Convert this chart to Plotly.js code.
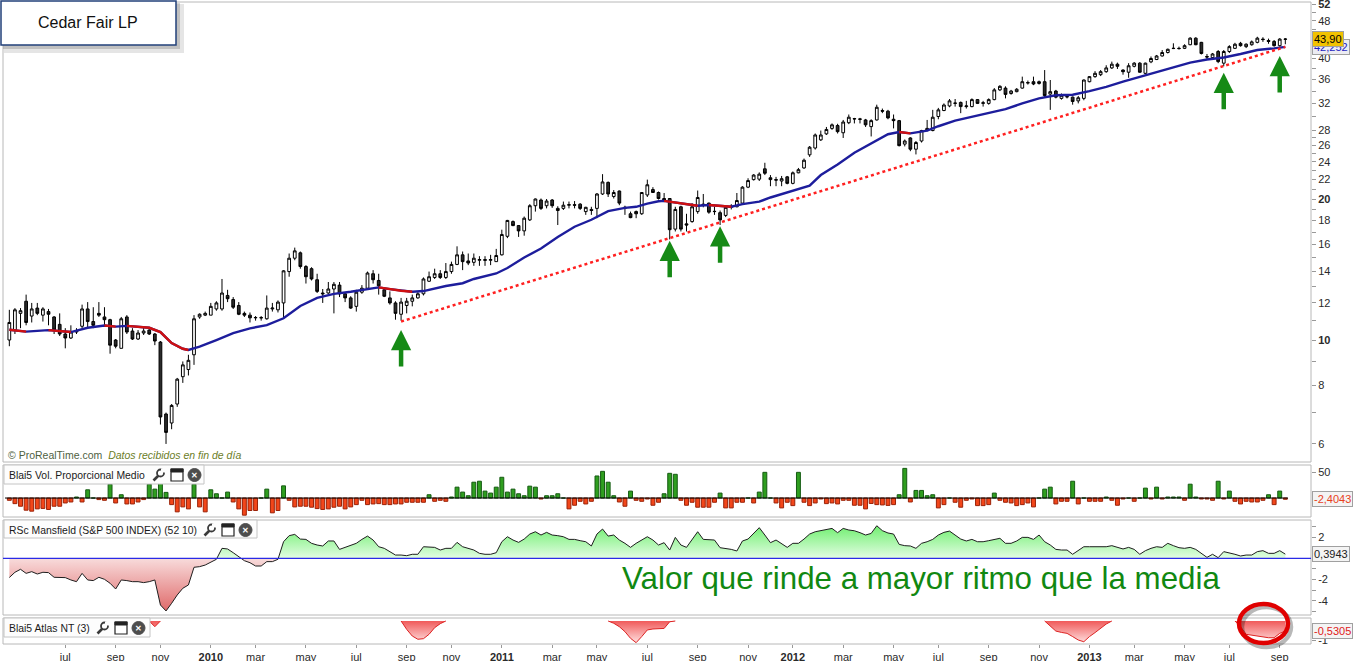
<!DOCTYPE html>
<html><head><meta charset="utf-8">
<script src="https://cdn.plot.ly/plotly-3.0.1.min.js"></script>
<style>html,body{margin:0;padding:0;background:#fff;overflow:hidden}</style>
</head><body><div id="chart" style="width:1360px;height:661px"></div>
<script>
// ---------- DATA (weekly, Cedar Fair LP) ----------
const weeks = [
'2009-04-27','2009-05-04','2009-05-11','2009-05-18','2009-05-25','2009-06-01','2009-06-08','2009-06-15','2009-06-22','2009-06-29',
'2009-07-06','2009-07-13','2009-07-20','2009-07-27','2009-08-03','2009-08-10','2009-08-17','2009-08-24','2009-08-31','2009-09-07',
'2009-09-14','2009-09-21','2009-09-28','2009-10-05','2009-10-12','2009-10-19','2009-10-26','2009-11-02','2009-11-09','2009-11-16',
'2009-11-23','2009-11-30','2009-12-07','2009-12-14','2009-12-21','2009-12-28',
'2010-01-04','2010-01-11','2010-01-18','2010-01-25','2010-02-01','2010-02-08','2010-02-15','2010-02-22','2010-03-01','2010-03-08',
'2010-03-15','2010-03-22','2010-03-29','2010-04-05','2010-04-12','2010-04-19','2010-04-26','2010-05-03','2010-05-10','2010-05-17',
'2010-05-24','2010-05-31','2010-06-07','2010-06-14','2010-06-21','2010-06-28','2010-07-05','2010-07-12','2010-07-19','2010-07-26',
'2010-08-02','2010-08-09','2010-08-16','2010-08-23','2010-08-30','2010-09-06','2010-09-13','2010-09-20','2010-09-27','2010-10-04',
'2010-10-11','2010-10-18','2010-10-25','2010-11-01','2010-11-08','2010-11-15','2010-11-22','2010-11-29','2010-12-06','2010-12-13',
'2010-12-20','2010-12-27',
'2011-01-03','2011-01-10','2011-01-17','2011-01-24','2011-01-31','2011-02-07','2011-02-14','2011-02-21','2011-02-28','2011-03-07',
'2011-03-14','2011-03-21','2011-03-28','2011-04-04','2011-04-11','2011-04-18','2011-04-25','2011-05-02','2011-05-09','2011-05-16',
'2011-05-23','2011-05-30','2011-06-06','2011-06-13','2011-06-20','2011-06-27','2011-07-04','2011-07-11','2011-07-18','2011-07-25',
'2011-08-01','2011-08-08','2011-08-15','2011-08-22','2011-08-29','2011-09-05','2011-09-12','2011-09-19','2011-09-26','2011-10-03',
'2011-10-10','2011-10-17','2011-10-24','2011-10-31','2011-11-07','2011-11-14','2011-11-21','2011-11-28','2011-12-05','2011-12-12',
'2011-12-19','2011-12-26',
'2012-01-02','2012-01-09','2012-01-16','2012-01-23','2012-01-30','2012-02-06','2012-02-13','2012-02-20','2012-02-27','2012-03-05',
'2012-03-12','2012-03-19','2012-03-26','2012-04-02','2012-04-09','2012-04-16','2012-04-23','2012-04-30','2012-05-07','2012-05-14',
'2012-05-21','2012-05-28','2012-06-04','2012-06-11','2012-06-18','2012-06-25','2012-07-02','2012-07-09','2012-07-16','2012-07-23',
'2012-07-30','2012-08-06','2012-08-13','2012-08-20','2012-08-27','2012-09-03','2012-09-10','2012-09-17','2012-09-24','2012-10-01',
'2012-10-08','2012-10-15','2012-10-22','2012-10-29','2012-11-05','2012-11-12','2012-11-19','2012-11-26','2012-12-03','2012-12-10',
'2012-12-17','2012-12-24','2012-12-31',
'2013-01-07','2013-01-14','2013-01-21','2013-01-28','2013-02-04','2013-02-11','2013-02-18','2013-02-25','2013-03-04','2013-03-11',
'2013-03-18','2013-03-25','2013-04-01','2013-04-08','2013-04-15','2013-04-22','2013-04-29','2013-05-06','2013-05-13','2013-05-20',
'2013-05-27','2013-06-03','2013-06-10','2013-06-17','2013-06-24','2013-07-01','2013-07-08','2013-07-15','2013-07-22','2013-07-29',
'2013-08-05','2013-08-12','2013-08-19','2013-08-26','2013-09-02','2013-09-09'];

const openP = [
10.0,10.5,11.4,12.1,11.25,11.7,11.3,11.5,11.2,10.8,
10.3,10.1,10.4,10.7,11.65,10.95,11.4,11.2,11.05,10.0,
9.6,11.2,10.45,10.05,10.35,10.5,10.3,9.9,6.95,6.65,
7.3,8.35,8.65,9.3,11.2,11.3,11.3,11.65,11.65,12.45,
12.2,11.85,11.4,11.3,11.15,11.17,11.1,11.65,11.6,12.0,
14.0,14.95,15.35,14.35,14.2,13.45,12.6,12.6,12.85,13.1,
12.55,12.3,11.8,12.65,12.9,13.85,13.4,12.8,12.3,12.0,
11.35,11.85,12.1,12.3,12.55,13.35,13.6,13.85,13.6,14.0,
14.5,15.2,14.75,14.65,14.8,14.85,14.8,14.7,15.2,16.65,
17.9,17.55,17.1,18.05,19.35,19.9,19.35,19.9,19.1,19.1,
19.4,19.45,19.5,18.8,19.0,19.1,20.5,21.7,20.25,20.8,
19.1,18.6,18.8,18.6,20.4,20.95,20.65,20.05,20.05,17.25,
19.25,17.7,17.9,18.8,19.5,19.6,18.8,18.7,18.45,19.2,
19.25,19.6,21.2,22.0,22.05,23.2,22.2,22.0,21.85,22.3,
21.6,22.75,23.3,24.85,25.7,26.75,27.55,28.3,28.7,27.7,
29.1,29.7,29.65,29.5,28.55,29.5,30.9,30.8,29.6,29.4,
26.2,27.0,25.55,26.6,28.0,28.0,30.0,30.9,31.6,32.0,
32.15,31.5,31.5,32.6,32.0,32.0,32.6,34.2,34.5,33.6,
33.9,34.5,35.45,35.6,35.3,35.6,33.5,34.0,32.8,33.1,
33.0,32.4,32.8,35.6,36.5,36.85,37.4,38.1,38.8,37.7,
37.3,38.4,39.0,37.1,39.25,39.7,40.4,41.1,41.9,41.95,
41.95,42.7,44.1,43.2,40.3,40.1,41.3,39.0,41.3,41.95,
43.0,42.3,42.7,43.2,43.9,43.6,43.4,42.5,43.85];

const highP = [
11.6,11.7,11.7,12.5,12.0,12.0,11.75,11.65,11.25,11.4,
10.6,10.75,10.6,11.9,12.05,11.75,12.05,11.75,11.1,10.05,
11.2,11.3,10.6,10.5,10.65,10.65,10.35,9.95,7.0,7.3,
8.3,9.0,9.3,11.3,11.4,11.5,12.0,12.1,13.5,12.8,
12.35,12.05,11.5,11.45,11.25,11.25,12.45,12.0,12.15,14.1,
15.3,15.75,15.45,14.45,14.3,13.85,12.85,13.3,13.3,13.3,
12.65,12.4,12.8,13.1,14.0,14.1,13.85,12.95,12.7,12.1,
12.3,12.3,12.5,12.65,13.6,14.0,14.2,14.1,14.6,14.7,
15.85,15.45,15.3,15.3,15.1,15.1,15.2,15.65,17.2,18.05,
18.0,17.6,18.35,19.5,20.05,20.05,20.0,20.0,19.3,19.75,
19.75,19.8,19.6,19.25,19.25,20.6,22.6,21.8,20.9,20.85,
19.35,18.8,18.9,20.7,22.0,21.2,20.75,20.6,20.1,19.25,
19.35,18.6,19.6,20.85,20.5,19.65,19.25,18.9,19.4,19.5,
20.6,21.3,22.15,22.6,22.8,23.9,22.5,22.3,22.4,22.4,
22.9,23.3,24.4,25.95,27.6,28.0,28.5,29.0,28.95,29.5,
30.3,29.8,29.8,29.65,29.6,31.8,31.2,31.0,30.3,29.5,
26.8,27.1,26.6,28.1,29.5,31.0,31.3,32.0,32.7,32.7,
32.3,32.4,32.8,32.7,32.4,32.8,34.5,35.0,34.8,34.2,
34.5,36.5,35.8,36.5,35.8,37.7,35.9,34.2,33.6,33.4,
33.1,33.2,36.0,36.6,37.5,37.7,38.6,39.3,39.1,37.85,
39.0,39.2,39.2,39.1,40.3,40.6,41.6,41.9,43.0,42.3,
42.8,44.3,44.3,43.3,40.8,41.0,41.6,41.6,42.6,43.1,
43.3,43.0,43.6,44.4,44.3,44.0,43.7,44.1,44.1];

const lowP = [
9.7,10.3,10.6,10.75,10.9,11.3,10.95,10.75,10.3,10.2,
9.6,10.05,10.3,10.6,10.65,10.6,11.2,10.75,9.35,9.6,
9.6,10.3,10.0,10.0,10.25,10.25,9.75,6.6,6.0,6.45,
7.2,8.1,8.4,8.85,11.1,11.25,11.3,11.55,11.55,12.05,
11.65,11.3,11.2,10.9,11.0,11.0,11.05,11.5,11.45,11.2,
13.65,14.8,14.2,13.2,13.4,12.6,12.0,12.55,11.4,12.35,
12.05,11.65,11.5,12.55,12.85,13.2,12.5,12.35,11.9,11.05,
11.0,11.4,11.8,12.25,12.45,13.3,13.5,13.5,13.5,13.85,
14.45,14.1,14.45,14.4,14.4,14.4,14.45,14.7,15.15,16.5,
17.5,16.6,16.7,17.95,18.8,18.95,19.1,19.15,17.6,18.95,
19.1,19.1,18.95,18.5,18.5,18.2,20.4,20.2,20.05,19.4,
18.5,18.2,18.2,18.5,20.2,20.6,19.95,19.7,16.4,17.05,
17.05,17.05,17.8,18.6,19.2,18.6,18.5,17.6,18.3,19.0,
19.2,19.55,21.1,21.9,21.85,22.5,21.3,21.3,21.3,21.5,
21.5,22.7,23.2,24.6,25.5,26.6,27.4,28.1,27.6,27.0,
28.9,29.0,29.0,28.5,27.2,29.4,30.5,29.6,28.3,25.9,
25.9,25.3,24.9,26.4,27.9,27.9,29.6,30.8,31.4,31.5,
30.5,31.2,31.4,31.9,31.5,31.8,32.5,34.0,32.8,33.4,
33.8,34.4,35.1,35.0,35.1,33.0,31.0,32.8,32.6,32.8,
31.8,32.0,32.5,35.5,36.3,36.6,37.2,37.9,37.9,36.85,
36.3,38.2,37.2,37.0,39.0,39.6,40.3,40.9,41.8,41.7,
41.8,42.6,42.6,40.7,39.8,39.9,39.0,38.4,41.0,41.8,
42.3,42.0,42.5,43.0,43.3,42.9,42.3,42.3,42.8];

const closeP = [
10.9,11.6,11.55,10.9,11.65,11.4,11.65,11.35,10.5,10.3,
10.1,10.4,10.45,11.65,10.95,10.75,11.3,11.05,9.75,9.7,
11.1,10.4,10.05,10.35,10.45,10.3,9.95,6.85,6.35,7.25,
8.25,8.85,9.05,11.1,11.35,11.4,11.8,12.0,12.6,12.25,
11.75,11.35,11.3,11.15,11.17,11.15,11.7,11.7,12.05,14.05,
14.95,15.5,14.35,13.65,13.5,12.7,12.55,12.85,13.15,12.55,
12.3,11.7,12.65,12.9,13.9,13.45,13.05,12.4,12.0,11.4,
12.05,12.1,12.3,12.55,13.5,13.65,13.85,13.6,14.0,14.5,
15.2,14.7,14.6,14.95,14.85,14.8,14.85,15.15,16.8,18.0,
17.55,17.1,18.2,19.35,20.0,19.1,19.8,19.35,18.9,19.4,
19.45,19.4,19.1,19.2,18.9,20.5,21.75,20.5,20.65,19.6,
19.2,18.25,18.6,20.65,21.45,20.65,20.05,19.9,17.2,19.0,
17.25,17.6,19.25,20.15,19.4,18.75,18.82,18.05,19.2,19.3,
19.85,21.2,21.9,22.5,22.6,22.7,22.0,21.95,22.1,21.6,
22.75,23.1,24.2,25.8,27.4,27.4,28.15,28.8,27.85,29.2,
29.9,29.65,29.6,28.8,29.4,31.4,30.8,29.8,29.4,26.0,
26.6,25.55,26.4,28.0,28.3,29.9,31.0,31.75,32.4,32.05,
31.5,31.6,32.6,32.0,32.1,32.6,34.2,34.8,33.45,34.0,
34.3,35.6,35.4,35.2,35.6,33.25,33.9,33.0,33.3,33.05,
32.3,32.9,35.9,36.5,37.1,37.4,38.1,38.8,38.4,37.4,
38.5,39.0,37.3,39.0,39.9,40.4,41.1,41.75,41.95,41.9,
42.5,44.1,42.7,40.9,40.2,40.8,39.3,41.3,42.3,42.8,
42.5,42.8,43.3,44.1,43.8,43.4,42.5,43.9,43.9];

// moving average, read at selected weeks (1-based week numbers)
const maWeekIdx = [1,4,8,12,15,18,20,22,26,28,30,32,33,35,38,41,44,47,50,53,56,59,62,65,67,69,71,73,75,77,
79,82,84,88,90,93,96,99,102,105,108,111,113,115,117,118,121,124,126,128,130,132,135,137,140,144,146,149,152,155,
158,160,162,165,167,170,173,176,179,182,185,188,191,194,197,200,203,206,209,212,215,218,221,224,227,229];
const maValues = [10.52,10.42,10.5,10.4,10.62,10.74,10.68,10.72,10.62,10.4,9.85,9.58,9.52,9.68,10.0,10.35,10.59,10.76,11.13,11.82,
12.3,12.55,12.68,12.86,12.95,12.84,12.74,12.68,12.72,12.9,13.04,13.22,13.5,13.87,14.25,15.0,15.68,16.6,17.45,18.06,
18.85,19.15,19.25,19.55,19.78,19.82,19.55,19.35,19.42,19.33,19.25,19.5,19.74,20.15,20.65,21.35,22.5,23.7,25.1,26.3,
27.5,27.8,27.62,28.0,28.6,29.4,29.97,30.5,31.1,32.0,32.8,33.3,33.4,34.0,34.7,35.6,36.5,37.3,38.2,39.1,
39.7,40.1,40.8,41.6,41.95,42.252];

const trendWeekIdx = [71, 229];
const trendValues = [10.95, 42.25];

const arrowWeekIdx = [71, 119, 128, 218, 228];
const arrowTipValues = [10.5, 16.3, 17.5, 37.2, 40.4];

const volume = [
-4.4,-10.8,-15.8,-23.4,-25.3,-20.9,-20,-22,-15.8,-15.8,
-9.5,-7.6,1.9,-7.6,15.8,0,-3,-4.4,26.6,-9.5,
6.3,-11.4,-11.4,-7.6,-3,26.6,17.1,28.5,10.8,-12.7,
-26.6,-17.1,-20.9,26.6,-17.1,-26.6,15.8,8.2,0,11.4,
-7.6,-20.9,-33,-24,-24,0,17.1,-28.5,-24,23.4,
-4.4,-17.1,-15.8,-15.8,-17.7,-20.3,-22,-20.9,-17.7,-15.8,
-20.9,-17.1,-12.7,-4.4,-12.7,-11.4,-10.8,-12.7,-12.7,-11.4,
-11.4,-8.2,-8.2,-8.2,-8.2,6.3,-6.3,-4.4,-6.3,1.9,
20.9,11.4,4.4,30.4,32.3,13.3,9.5,20.9,39.9,11.4,
17.1,8.2,4.4,22.8,20.9,-1.9,4.4,4.4,8.2,0,
-20.9,-13.9,-6.3,-11.4,-6.3,42.4,51.3,30.4,4.4,-7.6,
-15.8,13.3,-4.4,-6.3,-1.9,-13.9,-8.2,8.2,47.5,45.6,
-4.4,-13.9,-8.2,-17.7,-17.7,-17.7,-8.2,9.5,-19,-19,
-8.2,-8.2,0,-9.5,11.4,49.4,0,-9.5,-19,-8.2,
-14.6,49.4,-8.2,-14.6,-9.5,-1.9,-10.8,-9.5,-11.4,-4.4,
-4.4,-13.9,-13.9,-20.9,-10.5,-12.7,-13.3,-14.2,-12.7,6.3,
57,-7.6,14.6,14.6,4.4,6.3,-19,-12.7,0,-8.2,
-17.7,-4.4,-1.9,-14.6,-14.6,-12.7,9.5,-4.4,-8.2,-9.5,
-14.6,-12.7,-9.5,-17.1,0,17.1,20.9,-11.4,-6.3,-6.3,
32.3,-11.4,0,-6.3,-6.3,-6.3,1.9,-4.4,-13.9,-1.9,
0,-6.3,0,19,-1.9,20.9,-1.9,1.9,1.9,1.9,
-4.4,26.6,1.9,-1.9,-1.9,-4.4,32.3,-1.9,13.3,-6.3,
-11.4,-6.3,-7.6,-7.6,-4.4,6.3,-12.7,13.3,-2.4043];

const rsc = [
-1.8,-1.31,-1.03,-1.41,-1.25,-1.47,-1.31,-1.34,-1.78,-1.78,
-1.81,-2.03,-2.19,-1.41,-2.03,-2.09,-1.78,-1.97,-2.34,-2.88,
-2.03,-2.09,-2.19,-2.19,-2.28,-2.19,-2.03,-4.38,-4.94,-4.22,
-3.44,-2.81,-2.5,-0.84,-0.78,-0.63,-0.38,-0.09,0.94,0.88,
0.53,0.16,-0.22,-0.41,-0.72,-0.72,-0.31,-0.31,-0.09,1.56,
2.13,2.25,1.81,1.78,1.41,1.25,1.16,1.63,1.63,0.84,
1.03,1.16,1.41,1.78,2.09,1.72,1.09,0.94,0.63,0.31,
0.31,0.25,0.38,0.38,1.09,1.03,1.03,0.78,0.94,0.94,
1.5,1.09,0.94,0.78,0.47,0.38,0.38,0.53,1.56,2.03,
1.72,1.5,1.81,2.28,2.5,2.19,2.44,2.19,2.13,2.03,
1.78,1.78,1.66,1.56,1.16,2.28,2.75,2.09,2.19,1.72,
1.41,1.03,1.41,1.72,2.03,1.72,1.25,1.47,0.78,1.97,
1.25,1.03,1.78,2.5,1.78,1.72,1.72,1.0,0.94,0.84,
0.69,1.63,1.81,2.34,2.88,2.19,1.47,1.72,1.41,1.03,
1.41,1.41,1.81,2.28,2.5,2.59,2.66,2.81,2.41,2.81,
2.66,2.59,2.41,2.19,2.34,3.06,2.6,2.38,2.28,1.31,
1.19,1.16,0.94,1.41,1.56,1.78,2.19,2.44,2.56,2.19,
1.81,1.63,1.78,1.56,1.56,1.66,1.78,1.88,1.41,1.41,
1.63,1.97,1.97,1.78,2.19,1.56,1.25,0.84,0.78,0.78,
0.38,0.72,1.09,1.09,1.09,1.16,1.09,1.19,1.03,0.88,
1.03,0.84,0.38,0.72,0.94,1.09,1.03,1.41,1.19,1.0,
0.94,1.03,0.84,0.47,0.09,0.38,0.06,0.63,0.53,0.38,
0.22,0.31,0.31,0.63,0.72,0.47,0.47,0.72,0.3943];

const atlasStartIdx = [26, 71, 108, 186, 220];
const atlasHumps = [
  [0,-0.3,0],
  [0,-0.44,-0.79,-0.96,-0.93,-0.7,-0.35,-0.14,0],
  [0,-0.12,-0.3,-0.56,-0.91,-1.14,-0.82,-0.47,-0.42,-0.39,-0.39,-0.04,0],
  [0,-0.26,-0.53,-0.6,-0.65,-0.82,-1.0,-1.09,-0.82,-0.61,-0.39,-0.16,0],
  [0,-0.3,-0.7,-0.75,-0.8,-0.85,-0.88,-0.88,-0.65,-0.5305]
];

const tickDates = ['2009-07-06','2009-09-07','2009-11-02','2010-01-04','2010-03-01','2010-05-03','2010-07-05','2010-09-06','2010-11-01',
'2011-01-03','2011-03-07','2011-05-02','2011-07-04','2011-09-05','2011-11-07','2012-01-02','2012-03-05','2012-05-07','2012-07-02',
'2012-09-03','2012-11-05','2013-01-07','2013-03-04','2013-05-06','2013-07-01','2013-09-02'];
const tickLabels = ['jul','sep','nov','<b>2010</b>','mar','may','jul','sep','nov','<b>2011</b>','mar','may','jul','sep','nov',
'<b>2012</b>','mar','may','jul','sep','nov','<b>2013</b>','mar','may','jul','sep'];

const priceTicks = [6,7,8,9,10,11,12,13,14,15,16,17,18,19,20,21,22,23,24,25,26,27,28,30,32,34,36,38,40,42,44,46,48,50,52];
const priceTickLabels = ['6','','8','','<b>10</b>','','12','','14','','16','','18','','<b>20</b>','','22','','24','','26','','28','',
'32','','36','','40','','','','48','','<b>52</b>'];

// ---------- LAYOUT HELPERS ----------
const FONT = 'Liberation Sans, Arial, sans-serif';
const W = 1360, H = 661, M = {l:3, r:49, t:3, b:17};
const PW = W - M.l - M.r, PH = H - M.t - M.b;
const px = x => (x - M.l) / PW;
const py = y => (H - M.b - y) / PH;
const shapes = [], annotations = [];
function rectPx(x0, y0, x1, y1, opt) {
  shapes.push(Object.assign({type:'rect', xref:'paper', yref:'paper', x0:px(x0), x1:px(x1), y0:py(y1), y1:py(y0), layer:'above'}, opt));
}
function ellipsePx(x0, y0, x1, y1, opt) {
  shapes.push(Object.assign({type:'circle', xref:'paper', yref:'paper', x0:px(x0), x1:px(x1), y0:py(y1), y1:py(y0), layer:'above'}, opt));
}
function linePx(x0, y0, x1, y1, opt) {
  shapes.push(Object.assign({type:'line', xref:'paper', yref:'paper', x0:px(x0), x1:px(x1), y0:py(y0), y1:py(y1), layer:'above'}, opt));
}
function textPx(x, y, text, size, color, anchor, extra) {
  annotations.push(Object.assign({xref:'paper', yref:'paper', x:px(x), y:py(y), text, showarrow:false,
    xanchor:anchor || 'left', yanchor:'middle', font:{family:FONT, size, color}}, extra || {}));
}
function icons(x, y) {
  // wrench: handle + open jaw
  linePx(x + 1.5, y + 11.5, x + 7, y + 6, {line:{color:'#3a3a3a', width:2.6}});
  ellipsePx(x + 5, y + 0.5, x + 12, y + 7.5, {line:{color:'#3a3a3a', width:1.8}, fillcolor:'#ffffff'});
  rectPx(x + 9, y - 0.5, x + 13, y + 3.5, {fillcolor:'#fdfdfd', line:{width:0}});
  // window
  rectPx(x + 19, y, x + 31, y + 12, {fillcolor:'#ffffff', line:{color:'#222', width:1.2}});
  rectPx(x + 19, y, x + 31, y + 3, {fillcolor:'#222', line:{color:'#222', width:1}});
  // close
  ellipsePx(x + 36, y - 0.5, x + 49, y + 12.5, {fillcolor:'#4d4d4d', line:{color:'#4d4d4d', width:1}});
  textPx(x + 42.5, y + 6, '<b>✕</b>', 8, '#ffffff', 'center');
}
const fmt = (v, d) => v.toFixed(d).replace('.', ',');

// ---------- TRACES ----------
const data = [];
// volume
data.push({type:'bar', x:weeks, y:volume, xaxis:'x', yaxis:'y2', hoverinfo:'skip',
  marker:{color:volume.map(v => v >= 0 ? '#2f9e1f' : '#f2461a'),
          line:{color:volume.map(v => v >= 0 ? '#155a12' : '#9a2208'), width:1}}});
// RSc Mansfield
data.push({type:'scatter', mode:'lines', x:weeks, y:rsc, xaxis:'x', yaxis:'y3', hoverinfo:'skip',
  line:{color:'#1e1e1e', width:1}, fill:'tozeroy', fillcolor:'rgba(150,240,150,0.6)',
  fillgradient:{type:'vertical', start:-5.32, stop:3.6,
    colorscale:[[0,'#de6262'],[0.5995,'#f8dcdc'],[0.6005,'#e2fde2'],[1,'#5cec5c']]}});
// Atlas NT
atlasStartIdx.forEach((s, k) => {
  const vals = atlasHumps[k];
  data.push({type:'scatter', mode:'lines', x:weeks.slice(s - 1, s - 1 + vals.length), y:vals,
    xaxis:'x', yaxis:'y4', hoverinfo:'skip', line:{color:'#dd2222', width:1}, fill:'tozeroy',
    fillcolor:'rgba(240,100,100,0.8)',
    fillgradient:{type:'vertical', start:-1.21, stop:0, colorscale:[[0,'#ffe8e8'],[1,'#f05a5a']]}});
});
// candles
data.push({type:'candlestick', x:weeks, open:openP, high:highP, low:lowP, close:closeP,
  xaxis:'x', yaxis:'y', hoverinfo:'skip', whiskerwidth:0,
  increasing:{line:{color:'#000000', width:1}, fillcolor:'#ffffff'},
  decreasing:{line:{color:'#000000', width:1}, fillcolor:'#2b2b2b'}});
// moving average (blue), red where falling
const maX = maWeekIdx.map(i => weeks[i - 1]);
data.push({type:'scatter', mode:'lines', x:maX, y:maValues, xaxis:'x', yaxis:'y', hoverinfo:'skip',
  line:{color:'#1d1d9c', width:2.4}});
const redX = [], redY = [];
let lastK = -5;
for (let k = 0; k < maValues.length - 1; k++) {
  if (maValues[k + 1] < maValues[k]) {
    if (k !== lastK + 1) {
      if (redX.length) { redX.push(null); redY.push(null); }
      redX.push(maX[k]); redY.push(maValues[k]);
    }
    redX.push(maX[k + 1]); redY.push(maValues[k + 1]);
    lastK = k;
  }
}
data.push({type:'scatter', mode:'lines', x:redX, y:redY, xaxis:'x', yaxis:'y', hoverinfo:'skip',
  connectgaps:false, line:{color:'#cf1010', width:2.4}});
// trend line
data.push({type:'scatter', mode:'lines', x:trendWeekIdx.map(i => weeks[i - 1]), y:trendValues,
  xaxis:'x', yaxis:'y', hoverinfo:'skip', line:{color:'#ff2020', width:2.5, dash:'dot'}});

// ---------- DECORATION ----------
const border = {line:{color:'#b8b8b8', width:1}, fillcolor:'rgba(0,0,0,0)'};
rectPx(3, 2, 1311, 462, border);
rectPx(3, 465, 1311, 517, border);
rectPx(3, 520, 1311, 615, border);
rectPx(3, 618, 1311, 644, border);
shapes.push({type:'line', xref:'paper', yref:'y2', x0:px(5), x1:px(1288), y0:0, y1:0, layer:'above', line:{color:'#000', width:1}});
shapes.push({type:'line', xref:'paper', yref:'y3', x0:0, x1:1, y0:0, y1:0, layer:'above', line:{color:'#2a2ae6', width:1.4}});
// title box
rectPx(4, 4, 184, 53, {fillcolor:'rgba(0,0,0,0.10)', line:{width:0}});
rectPx(3, 3, 180, 49, {fillcolor:'rgba(0,0,0,0.16)', line:{width:0}});
rectPx(1, 1, 176, 45, {fillcolor:'#ffffff', line:{color:'#22407a', width:1.5}});
textPx(88, 23, 'Cedar Fair LP', 16, '#111', 'center');
// copyright
textPx(6, 455, '<span style="color:#4f5f3f">© ProRealTime.com</span>  <span style="color:#6b7d1f"><i>Datos recibidos en fin de día</i></span>', 10.5, '#4f5f3f', 'left');
// panel label boxes
rectPx(4, 465, 204, 484, {fillcolor:'#fdfdfd', line:{color:'#c4c4c4', width:1}});
textPx(7, 475, 'Blai5 Vol. Proporcional Medio', 10.4, '#1a1a1a', 'left');
icons(152, 469);
rectPx(4, 520, 257, 538, {fillcolor:'#fdfdfd', line:{color:'#c4c4c4', width:1}});
textPx(7, 530, 'RSc Mansfield (S&amp;P 500 INDEX) (52 10)', 10.4, '#1a1a1a', 'left');
icons(203, 524);
rectPx(4, 618, 150, 637, {fillcolor:'#fdfdfd', line:{color:'#c4c4c4', width:1}});
textPx(7, 628, 'Blai5 Atlas NT (3)', 10.4, '#1a1a1a', 'left');
icons(96, 622);
// big comment
textPx(921, 578, 'Valor que rinde a mayor ritmo que la media', 31.3, '#118811', 'center');
// red circle
ellipsePx(1242, 607, 1291, 647, {line:{color:'rgba(0,0,0,0.28)', width:4.5}});
ellipsePx(1239, 604, 1288, 643, {line:{color:'#e00000', width:4.5}});
// arrows
arrowWeekIdx.forEach((wi, k) => annotations.push({xref:'x', yref:'y', x:weeks[wi - 1], y:Math.log10(arrowTipValues[k]),
  ax:0, ay:38, text:'', showarrow:true, arrowhead:2, arrowsize:0.9, arrowwidth:4.5, arrowcolor:'#168a16', standoff:0}));
// last-value labels
function sideLabel(yref, y, text, color, bg) {
  annotations.push({xref:'paper', x:1, xanchor:'left', xshift:1, yref, y, yanchor:'middle', text, showarrow:false,
    font:{family:FONT, size:11, color}, bgcolor:bg, bordercolor:'#a0a0a0', borderwidth:1, borderpad:1});
}
sideLabel('y', Math.log10(maValues[maValues.length - 1]), fmt(maValues[maValues.length - 1], 3), '#1c1cc0', '#ececf2');
sideLabel('y', Math.log10(closeP[closeP.length - 1]), fmt(closeP[closeP.length - 1], 2), '#000', '#f2c200');
sideLabel('y2', volume[volume.length - 1], fmt(volume[volume.length - 1], 4), '#e8401c', '#f4f4f4');
sideLabel('y3', rsc[rsc.length - 1], fmt(rsc[rsc.length - 1], 4), '#222', '#f4f4f4');
const lastHump = atlasHumps[atlasHumps.length - 1];
sideLabel('y4', lastHump[lastHump.length - 1], fmt(lastHump[lastHump.length - 1], 4), '#e02020', '#f4f4f4');

// ---------- AXES ----------
const tickfont = {family:FONT, size:11, color:'#2a2a2a'};
const yCommon = {side:'right', anchor:'x', showgrid:false, zeroline:false, showline:false, ticks:'outside', ticklen:4,
  tickcolor:'#999', tickfont, fixedrange:true, autorange:false, ticklabeloverflow:'allow'};
const layout = {
  width:W, height:H, margin:M, paper_bgcolor:'#fff', plot_bgcolor:'#fff', showlegend:false, hovermode:false,
  font:{family:FONT}, bargap:0.3, shapes, annotations,
  xaxis:{type:'date', range:['2009-04-19 02:00','2013-10-11 03:00'], anchor:'y4', tickvals:tickDates, ticktext:tickLabels,
    ticks:'outside', ticklen:3, tickcolor:'#999', showgrid:false, zeroline:false, showline:false, tickangle:0,
    tickfont, rangeslider:{visible:false}, fixedrange:true, ticklabeloverflow:'allow'},
  yaxis:Object.assign({}, yCommon, {type:'log', domain:[py(462), py(3)], range:[Math.log10(5.49), Math.log10(52.42)],
    tickvals:priceTicks, ticktext:priceTickLabels}),
  yaxis2:Object.assign({}, yCommon, {domain:[py(517), py(465)], range:[-36.5, 63.5], tickvals:[0, 50], ticktext:['','50']}),
  yaxis3:Object.assign({}, yCommon, {domain:[py(615), py(520)], range:[-5.32, 3.6],
    tickvals:[-5,-4,-3,-2,-1,0,1,2,3], ticktext:['','-4','','-2','','','','2','']}),
  yaxis4:Object.assign({}, yCommon, {domain:[0, py(618)], range:[-1.21, 0.158], tickvals:[-1], ticktext:['-1']})
};
Plotly.newPlot('chart', data, layout, {staticPlot:true, displayModeBar:false});
</script></body></html>
